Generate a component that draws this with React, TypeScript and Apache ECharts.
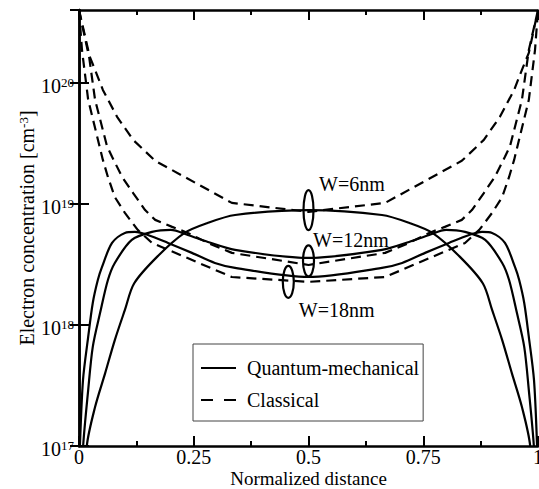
import React, { useEffect, useRef } from 'react';
import * as echarts from 'echarts';

const FONT = 'Liberation Serif';

// Axis
const xTicks = [0, 0.25, 0.5, 0.75, 1];
const yMin = 1e17;
const yMax = 4e20;

// Quantum-mechanical (solid)
const xQ6 = [0, 0.017, 0.035, 0.057, 0.078, 0.1, 0.12, 0.17, 0.23, 0.28, 0.34, 0.5, 0.66, 0.72, 0.77, 0.83, 0.88, 0.9, 0.922, 0.943, 0.965, 0.983, 1];
const yQ6 = [1e16, 1e17, 2.1e17, 4.0e17, 7.5e17, 1.33e18, 2.2e18, 3.65e18, 5.76e18, 6.96e18, 8.1e18, 8.9e18, 8.1e18, 6.96e18, 5.76e18, 3.65e18, 2.2e18, 1.33e18, 7.5e17, 4.0e17, 2.1e17, 1e17, 1e16];

const xQ12 = [0, 0.009, 0.02, 0.03, 0.046, 0.063, 0.078, 0.115, 0.159, 0.2, 0.237, 0.281, 0.34, 0.5, 0.66, 0.719, 0.763, 0.8, 0.841, 0.885, 0.922, 0.937, 0.954, 0.97, 0.98, 0.991, 1];
const yQ12 = [2e16, 1e17, 2.9e17, 6.6e17, 1.26e18, 2.35e18, 3.25e18, 5.04e18, 5.87e18, 6.1e18, 5.54e18, 4.85e18, 4.17e18, 3.58e18, 4.17e18, 4.85e18, 5.54e18, 6.1e18, 5.87e18, 5.04e18, 3.25e18, 2.35e18, 1.26e18, 6.6e17, 2.9e17, 1e17, 2e16];

const xQ18 = [0, 0.002, 0.0087, 0.02, 0.03, 0.041, 0.05, 0.072, 0.1, 0.122, 0.15, 0.194, 0.246, 0.296, 0.34, 0.5, 0.66, 0.704, 0.754, 0.806, 0.85, 0.878, 0.9, 0.928, 0.95, 0.959, 0.97, 0.98, 0.9913, 0.998, 1];
const yQ18 = [5e16, 1e17, 3.5e17, 7.96e17, 1.52e18, 2.35e18, 3.0e18, 4.76e18, 5.76e18, 5.87e18, 5.54e18, 4.76e18, 3.94e18, 3.25e18, 2.96e18, 2.49e18, 2.96e18, 3.25e18, 3.94e18, 4.76e18, 5.54e18, 5.87e18, 5.76e18, 4.76e18, 3.0e18, 2.35e18, 1.52e18, 7.96e17, 3.5e17, 1e17, 5e16];

// Classical (dashed)
const xC6 = [0, 0.02, 0.035, 0.052, 0.083, 0.118, 0.166, 0.333, 0.5, 0.667, 0.834, 0.882, 0.917, 0.948, 0.965, 0.98, 1];
const yC6 = [4.0e20, 1.77e20, 1.28e20, 8.75e19, 5.24e19, 3.38e19, 2.27e19, 1.02e19, 8.6e18, 1.02e19, 2.27e19, 3.38e19, 5.24e19, 8.75e19, 1.28e20, 1.77e20, 4.0e20];

const xC12 = [0, 0.02, 0.035, 0.061, 0.072, 0.094, 0.118, 0.144, 0.166, 0.203, 0.237, 0.281, 0.333, 0.5, 0.667, 0.719, 0.763, 0.797, 0.834, 0.856, 0.882, 0.906, 0.928, 0.939, 0.965, 0.98, 1];
const yC12 = [4.0e20, 1.87e20, 7.24e19, 3.0e19, 2.45e19, 1.67e19, 1.23e19, 8.9e18, 7.38e18, 6.46e18, 5.76e18, 4.76e18, 3.94e18, 3.13e18, 3.94e18, 4.76e18, 5.76e18, 6.46e18, 7.38e18, 8.9e18, 1.23e19, 1.67e19, 2.45e19, 3.0e19, 7.24e19, 1.87e20, 4.0e20];

const xC18 = [0, 0.0065, 0.02, 0.052, 0.063, 0.078, 0.1, 0.128, 0.159, 0.333, 0.5, 0.667, 0.841, 0.872, 0.9, 0.922, 0.937, 0.948, 0.98, 0.9935, 1];
const yC18 = [4.0e20, 1.87e20, 7.24e19, 2.31e19, 1.67e19, 1.14e19, 8.43e18, 6.1e18, 4.76e18, 2.49e18, 2.27e18, 2.49e18, 4.76e18, 6.1e18, 8.43e18, 1.14e19, 1.67e19, 2.31e19, 7.24e19, 1.87e20, 4.0e20];

// Annotations
const ringLabels = ['W=6nm', 'W=12nm', 'W=18nm'];
const ringX = [0.5, 0.5, 0.456];
const ringY = [8.9e18, 3.38e18, 2.27e18];
const textX = [0.523, 0.51, 0.479];
const textY = [1.46e19, 5.04e18, 1.33e18];

const legendNames = ['Quantum-mechanical', 'Classical'];

export default function App() {
  const ref = useRef<HTMLDivElement>(null);
  useEffect(() => {
    document.body.style.margin = '0';
    const chart = echarts.init(ref.current!, null, { renderer: 'svg' });
    const pairs = (xs: number[], ys: number[]) => xs.map((x, i) => [x, ys[i]]);
    const solid = { color: '#000', width: 2.2, type: 'solid' as const };
    const dashed = { color: '#000', width: 2.2, type: [10, 6] as any };
    const base = {
      type: 'line' as const,
      showSymbol: false,
      symbol: 'none',
      clip: true,
      z: 3,
      xAxisIndex: 0,
      yAxisIndex: 0,
      itemStyle: { color: '#000' },
    };
    const series: any[] = [
      { ...base, name: legendNames[0], data: pairs(xQ6, yQ6), smooth: 0.3, lineStyle: solid },
      { ...base, name: legendNames[0], data: pairs(xQ12, yQ12), smooth: 0.3, lineStyle: solid },
      { ...base, name: legendNames[0], data: pairs(xQ18, yQ18), smooth: 0.3, lineStyle: solid },
      { ...base, name: legendNames[1], data: pairs(xC6, yC6), lineStyle: dashed },
      { ...base, name: legendNames[1], data: pairs(xC12, yC12), lineStyle: dashed },
      { ...base, name: legendNames[1], data: pairs(xC18, yC18), lineStyle: dashed },
    ];
    const axisLine = { show: true, lineStyle: { color: '#000', width: 2.5 } };
    const xCommon = {
      type: 'value' as const,
      min: xTicks[0],
      max: xTicks[xTicks.length - 1],
      interval: xTicks[1] - xTicks[0],
      axisLine,
      splitLine: { show: false },
      axisTick: { show: true, inside: true, length: 10, lineStyle: { color: '#000', width: 2 } },
      minorTick: { show: true, splitNumber: 2, length: 5, lineStyle: { color: '#000', width: 2 } },
    };
    const supRich = {
      b: { fontFamily: FONT, fontSize: 20, lineHeight: 20, verticalAlign: 'bottom', color: '#000' },
      s: { fontFamily: FONT, fontSize: 13, lineHeight: 13, verticalAlign: 'top', padding: [0, 0, 12.5, 0], color: '#000' },
    };
    const yCommon = {
      type: 'log' as const,
      logBase: 10,
      min: yMin,
      max: yMax,
      axisLine,
      splitLine: { show: false },
      axisTick: { show: true, inside: true, length: 10, lineStyle: { color: '#000', width: 2 } },
      minorTick: { show: false },
    };
    chart.setOption({
      animation: false,
      backgroundColor: '#fff',
      grid: { left: 79, right: 1, top: 10, bottom: 43, outerBoundsMode: 'none', containLabel: false },
      xAxis: [
        {
          ...xCommon,
          position: 'bottom',
          name: 'Normalized distance',
          nameLocation: 'middle',
          nameGap: 24.5,
          nameMoveOverlap: false,
          nameTextStyle: { fontFamily: FONT, fontSize: 19, lineHeight: 16, color: '#000' },
          axisLabel: { show: true, margin: 2.5, fontFamily: FONT, fontSize: 20, lineHeight: 16, color: '#000' },
        },
        { ...xCommon, position: 'top', axisLabel: { show: false } },
      ],
      yAxis: [
        {
          ...yCommon,
          position: 'left',
          name: '{b|Electron concentration [cm}{s|-3}{b|]}',
          nameLocation: 'middle',
          nameGap: 42,
          nameMoveOverlap: false,
          nameTextStyle: { fontFamily: FONT, fontSize: 20, color: '#000', rich: supRich },
          axisLabel: {
            show: true,
            margin: 5,
            showMaxLabel: false,
            padding: [6, 0, 0, 0],
            formatter: (v: number) => {
              const e = Math.log10(v);
              const r = Math.round(e);
              if (Math.abs(e - r) > 1e-6) return '';
              return `{b|10}{s|${r}}`;
            },
            rich: supRich,
          },
        },
        { ...yCommon, position: 'right', axisLabel: { show: false }, axisTick: { ...yCommon.axisTick, length: 9 } },
      ],
      legend: {
        data: [
          { name: legendNames[0] },
          { name: legendNames[1], lineStyle: { type: [12, 11] } },
        ],
        orient: 'vertical',
        left: 193,
        top: 344,
        itemWidth: 35,
        itemHeight: 20,
        itemGap: 12,
        padding: [14, 4, 11, 7],
        borderColor: '#444',
        borderWidth: 1,
        selectedMode: false,
        itemStyle: { color: 'rgba(0,0,0,0)', borderWidth: 0, opacity: 0 },
        textStyle: { fontFamily: FONT, fontSize: 20, color: '#000', padding: [0, 0, 0, 6] },
      },
      series,
    });

    const ry = [20, 15.5, 16];
    const rx = [5, 5.5, 5.5];
    const graphic: any[] = [];
    ringLabels.forEach((label, i) => {
      const [cx, cy] = chart.convertToPixel({ gridIndex: 0 }, [ringX[i], ringY[i]]) as number[];
      graphic.push({
        type: 'ellipse',
        shape: { cx, cy, rx: rx[i], ry: ry[i] },
        style: { fill: 'none', stroke: '#000', lineWidth: 2.2 },
        z: 10,
      });
      const [tx, ty] = chart.convertToPixel({ gridIndex: 0 }, [textX[i], textY[i]]) as number[];
      graphic.push({
        type: 'text',
        x: tx,
        y: ty,
        style: { text: label, fontFamily: FONT, fontSize: 20, fill: '#000', align: 'left', verticalAlign: 'middle' },
        z: 10,
      });
    });
    chart.setOption({ graphic });

    return () => chart.dispose();
  }, []);
  return <div ref={ref} style={{ width: 539, height: 489 }} />;
}
